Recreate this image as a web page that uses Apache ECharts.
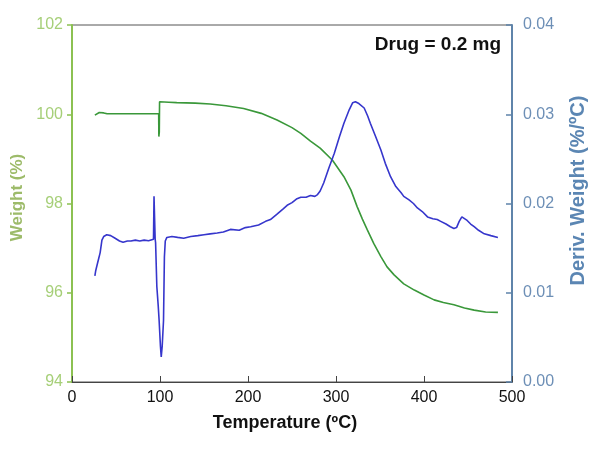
<!DOCTYPE html>
<html>
<head>
<meta charset="utf-8">
<script src="https://cdn.jsdelivr.net/npm/echarts@6/dist/echarts.min.js"></script>
<style>html,body{margin:0;padding:0;background:#fff}#c{width:600px;height:452px}</style>
</head>
<body>
<div id="c"></div>
<script>
// Temperature (°C), Weight (%)
const weightData = [
[26,99.98],[28,100.02],[31,100.04],[36,100.03],[40,100.01],[60,100.01],[80,100.01],[98.5,100.01],
[98.7,99.5],[99.2,99.6],[99.5,100.28],[110,100.27],[119,100.26],[140,100.25],[157,100.23],[175,100.19],
[195,100.13],[215,100.02],[233,99.87],[250,99.70],[260,99.57],[271,99.40],[282,99.24],[296,98.97],
[309,98.60],[317,98.30],[324,97.93],[330,97.65],[335.6,97.41],[343,97.10],[351,96.81],[358,96.58],
[366,96.40],[377,96.20],[389,96.06],[400,95.95],[411.5,95.84],[422,95.78],[434,95.73],[446,95.66],
[457,95.61],[470,95.57],[484,95.56]
];
// Temperature (°C), Deriv. Weight (%/°C)
const derivData = [
[26,0.0119],[27,0.0125],[28,0.0127],[29,0.0133],[30,0.0137],[32,0.0145],[34,0.0159],[36,0.0163],
[39.5,0.0165],[44,0.0164],[49,0.0161],[54,0.0158],[58,0.01566],[63,0.0158],[67,0.0158],[72,0.0159],
[77,0.0158],[82,0.0159],[87,0.01583],[92.6,0.0160],[93.2,0.0208],[93.8,0.0206],[94.5,0.0160],[95,0.0156],
[96.4,0.0107],[98,0.0085],[99,0.0069],[100.5,0.0040],[101.4,0.0028],[102.5,0.0040],[104,0.0069],[105,0.0140],
[106,0.0158],[107.8,0.0162],[113.5,0.0163],[120,0.0162],[127,0.0161],[135,0.0163],[143,0.0164],[150,0.0165],
[157,0.0166],[165,0.0167],[172,0.0168],[180,0.0171],[190,0.0170],[197,0.0173],[203,0.0174],[212,0.0176],
[220,0.0180],[225.5,0.0182],[233,0.0188],[240,0.0194],[244.5,0.0198],[250,0.0201],[255,0.0205],[260,0.0207],
[266,0.0207],[271,0.0209],[276,0.0208],[279,0.0210],[282,0.0214],[286,0.0223],[292,0.0240],[298,0.0256],
[304,0.0275],[309,0.0290],[315,0.0305],[319,0.0313],[322,0.0314],[326,0.0312],[332,0.0307],[336,0.0298],
[339,0.0290],[345,0.0275],[351,0.0260],[356,0.0245],[362,0.0230],[368,0.0219],[374,0.0212],[377,0.0208],
[383,0.0204],[388,0.0200],[392.5,0.0195],[398,0.0191],[404,0.0185],[410,0.0183],[415,0.0182],[419,0.0180],
[425,0.0177],[430,0.0174],[434,0.0172],[437,0.0173],[440,0.0180],[443,0.0185],[445,0.0185],[449,0.0181],
[453,0.0177],[457,0.0174],[462,0.0170],[468.5,0.0166],[476,0.0164],[484,0.0162]
];
const xTicks = [0,100,200,300,400,500];
const weightTicks = [94,96,98,100,102];
const derivTicks = [0.00,0.01,0.02,0.03,0.04];
const annotation = 'Drug = 0.2 mg';

const FONT = '"Liberation Sans", Arial, sans-serif';
const chart = echarts.init(document.getElementById('c'), null, {renderer:'canvas'});
chart.setOption({
  animation:false,
  backgroundColor:'#fff',
  grid:{left:72,right:88,top:25,bottom:70,show:true,borderColor:'#555',borderWidth:1,backgroundColor:'transparent'},
  graphic:[{type:'text',right:99,top:35,style:{text:annotation,font:'bold 19px '+FONT,fill:'#111'}}],
  xAxis:{type:'value',min:xTicks[0],max:xTicks[xTicks.length-1],interval:100,
    name:'Temperature (ºC)',nameLocation:'middle',nameGap:32,
    nameTextStyle:{fontFamily:FONT,fontWeight:'bold',fontSize:18,color:'#111',padding:[0,14,0,0]},
    axisLine:{lineStyle:{color:'#444',width:1}},
    axisTick:{inside:true,length:6,lineStyle:{color:'#444'}},
    axisLabel:{fontFamily:FONT,fontSize:16,color:'#111',margin:8},
    splitLine:{show:false}},
  yAxis:[{type:'value',min:weightTicks[0],max:weightTicks[weightTicks.length-1],interval:2,position:'left',
    name:'Weight (%)',nameLocation:'middle',nameGap:40,nameRotate:90,
    nameTextStyle:{fontFamily:FONT,fontWeight:'bold',fontSize:17,color:'#9dbb6a',padding:[0,0,0,12]},
    axisLine:{show:true,lineStyle:{color:'#8cc152',width:2}},
    axisTick:{show:true,length:5,lineStyle:{color:'#8cc152',width:1.5}},
    axisLabel:{fontFamily:FONT,fontSize:16,color:'#a6cf78',margin:9},
    splitLine:{show:false}},
   {type:'value',min:derivTicks[0],max:derivTicks[derivTicks.length-1],interval:0.01,position:'right',
    name:'Deriv. Weight (%/ºC)',nameLocation:'middle',nameGap:56,nameRotate:90,
    nameTextStyle:{fontFamily:FONT,fontWeight:'bold',fontSize:20,color:'#5b86b3',padding:[0,0,0,26]},
    axisLine:{show:true,lineStyle:{color:'#5f84aa',width:2}},
    axisTick:{show:true,inside:true,length:6,lineStyle:{color:'#5f84aa',width:1.5}},
    axisLabel:{fontFamily:FONT,fontSize:16,color:'#6d8fb6',margin:11,formatter:v=>v.toFixed(2)},
    splitLine:{show:false}}],
  series:[
    {type:'line',yAxisIndex:0,data:weightData,showSymbol:false,smooth:false,
     lineStyle:{color:'#3a983a',width:1.6},itemStyle:{color:'#3a983a'}},
    {type:'line',yAxisIndex:1,data:derivData,showSymbol:false,smooth:false,
     lineStyle:{color:'#3636cc',width:1.6},itemStyle:{color:'#3636cc'}}
  ]
});
</script>
</body>
</html>
